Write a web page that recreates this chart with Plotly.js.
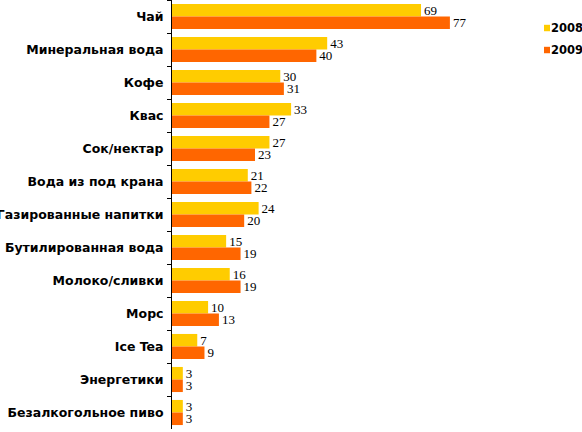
<!DOCTYPE html>
<html>
<head>
<meta charset="utf-8">
<script src="https://cdn.plot.ly/plotly-3.0.1.min.js"></script>
<style>html,body{margin:0;padding:0;background:#fff}#chart{width:582px;height:432px}</style>
</head>
<body>
<div id="chart"></div>
<script>
const categories = ["Чай","Минеральная вода","Кофе","Квас","Сок/нектар","Вода из под крана","Газированные напитки","Бутилированная вода","Молоко/сливки","Морс","Ice Tea","Энергетики","Безалкогольное пиво"];
const values2008 = [69,43,30,33,27,21,24,15,16,10,7,3,3];
const values2009 = [77,40,31,27,23,22,20,19,19,13,9,3,3];
const seriesNames = ["2008","2009"];
const seriesColors = ["#FFCC00","#FF6600"];

const labelFont = {family: "Liberation Serif, Times New Roman, serif", size: 13, color: "#000"};
const traces = [values2008, values2009].map((vals, i) => ({
  type:"bar", orientation:"h", name:seriesNames[i], y:categories, x:vals,
  marker:{color:seriesColors[i]}, text:vals.map(String), textposition:"outside",
  constraintext:"none", textfont:labelFont, cliponaxis:false, hoverinfo:"none"
}));

// custom legend (small squares next to bold labels)
const legendY = [0.9347, 0.8834];
const shapes = seriesNames.map((n, i) => ({
  type:"rect", xref:"paper", yref:"paper",
  x0:0.9073, x1:0.922, y0:legendY[i]-0.0075, y1:legendY[i]+0.0075,
  fillcolor:seriesColors[i], line:{width:0}
}));
const annotations = seriesNames.map((n, i) => ({
  text:n, xref:"paper", yref:"paper", x:0.922, y:legendY[i],
  xanchor:"left", yanchor:"middle", showarrow:false, borderpad:0,
  font:{family:"DejaVu Sans, Verdana, sans-serif", size:11.5, color:"#000", weight:"bold"}
}));

const layout = {
  width:582, height:432,
  margin:{l:172, r:0, t:0, b:3, pad:0},
  paper_bgcolor:"#fff", plot_bgcolor:"#fff",
  barmode:"group", bargap:0.24, bargroupgap:0,
  showlegend:false,
  shapes:shapes, annotations:annotations,
  xaxis:{range:[0,113.6], visible:false, fixedrange:true, automargin:false},
  yaxis:{type:"category", autorange:"reversed", showline:true, linecolor:"#000", linewidth:1,
    ticks:"outside", ticklen:4, tickcolor:"#000", tickson:"boundaries", automargin:false,
    ticklabelstandoff:5,
    showgrid:false, zeroline:false,
    tickfont:{family:"DejaVu Sans, Verdana, sans-serif", size:12.5, color:"#000", weight:"bold"}}
};
Plotly.newPlot("chart", traces, layout, {staticPlot:true, displayModeBar:false});
</script>
</body>
</html>
